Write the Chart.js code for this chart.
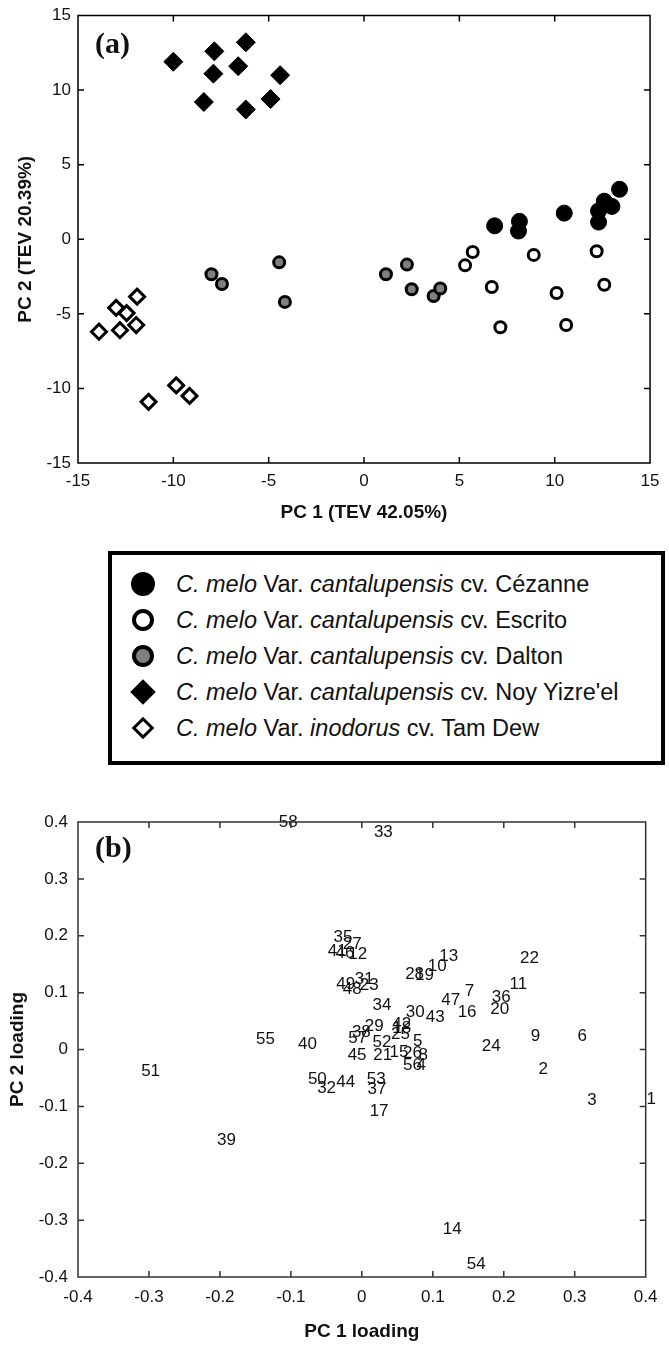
<!DOCTYPE html>
<html>
<head>
<meta charset="utf-8">
<script src="https://cdn.jsdelivr.net/npm/chart.js@4.4.0/dist/chart.umd.min.js"></script>
<style>
  html, body { margin: 0; padding: 0; background: #fff; }
  body { width: 669px; height: 1346px; position: relative; overflow: hidden;
         font-family: Arial, 'Liberation Sans', sans-serif; }
  .wrap { position: absolute; left: 0; width: 669px; }
  #wrapA { top: 0; height: 540px; }
  #wrapB { top: 790px; height: 556px; }
  .legend { position: absolute; left: 108px; top: 551px; width: 549px; height: 206px;
            border: 4px solid #000; }
  .row { position: absolute; left: 0; height: 36px; line-height: 36px; font-size: 23.5px;
         color: #111; white-space: nowrap; }
  .row .txt { position: absolute; left: 64px; top: 0; }
  .mk { position: absolute; box-sizing: border-box; }
</style>
</head>
<body>
<div class="wrap" id="wrapA"><canvas id="chartA"></canvas></div>
<div class="legend" id="legend"></div>
<div class="wrap" id="wrapB"><canvas id="chartB"></canvas></div>
<script>
// (a) scores, PC1 / PC2
const cezannePC1 = [6.85, 8.15, 8.1, 10.5, 12.6, 13.0, 12.3, 12.3, 13.4]
const cezannePC2 = [0.9, 1.2, 0.55, 1.75, 2.55, 2.2, 1.9, 1.15, 3.35]
const escritoPC1 = [5.7, 5.3, 8.9, 12.2, 6.7, 10.1, 12.6, 7.15, 10.6]
const escritoPC2 = [-0.85, -1.75, -1.05, -0.8, -3.2, -3.6, -3.05, -5.9, -5.75]
const daltonPC1 = [-8.0, -7.45, -4.45, -4.15, 1.15, 2.25, 2.5, 3.65, 4.0]
const daltonPC2 = [-2.35, -3.0, -1.55, -4.2, -2.35, -1.7, -3.35, -3.8, -3.3]
const noyPC1 = [-10.0, -7.85, -6.2, -7.9, -6.6, -4.4, -8.4, -6.2, -4.9]
const noyPC2 = [11.9, 12.6, 13.2, 11.1, 11.6, 11.0, 9.2, 8.7, 9.4]
const tamDewPC1 = [-13.9, -13.0, -12.8, -12.45, -11.9, -11.95, -11.3, -9.85, -9.15]
const tamDewPC2 = [-6.2, -4.6, -6.1, -4.95, -3.85, -5.75, -10.9, -9.8, -10.5]

const varieties = ['cantalupensis', 'cantalupensis', 'cantalupensis', 'cantalupensis', 'inodorus']
const cultivars = ['Cézanne', 'Escrito', 'Dalton', "Noy Yizre'el", 'Tam Dew']

const scoreTicksA = [-15, -10, -5, 0, 5, 10, 15]

// (b) loadings
const loadingIds = []
for (let i = 1; i <= 58; i++) loadingIds.push(String(i))
const loadingPC1 = [
  0.401, 0.249, 0.3175, 0.077, 0.072, 0.304, 0.145, 0.080, 0.238, 0.093,
  0.208, -0.019, 0.109, 0.114, 0.039, 0.135, 0.011, 0.043, 0.075, 0.181,
  0.016, 0.223, -0.003, 0.169, 0.041, 0.058, -0.027, 0.061, 0.004, 0.062,
  -0.010, -0.063, 0.017, 0.015, -0.040, 0.183, 0.008, -0.014, -0.204, -0.090,
  -0.048, 0.043, 0.090, -0.036, -0.020, -0.037, 0.112, -0.027, -0.036, -0.076,
  -0.311, 0.015, 0.007, 0.148, -0.149, 0.058, -0.019, -0.117
]
const loadingPC2 = [
  -0.088, -0.035, -0.089, -0.027, 0.014, 0.024, 0.102, -0.010, 0.024, 0.146,
  0.115, 0.168, 0.164, -0.316, -0.005, 0.065, -0.108, 0.037, 0.131, 0.071,
  -0.011, 0.160, 0.112, 0.005, 0.027, -0.007, 0.185, 0.132, 0.040, 0.066,
  0.124, -0.068, 0.382, 0.077, 0.197, 0.092, -0.070, 0.031, -0.159, 0.010,
  0.172, 0.045, 0.056, -0.058, -0.011, 0.169, 0.086, 0.105, 0.115, -0.052,
  -0.039, 0.012, -0.052, -0.378, 0.018, -0.027, 0.020, 0.400
]

const FONT = "Arial, 'Liberation Sans', sans-serif"
const SERIF = "'Times New Roman', 'Liberation Serif', serif"

const zip = (xs, ys) => xs.map((x, i) => ({x, y: ys[i]}))

// box + inward ticks on all four sides, like the original figure
const frameTicks = {
  id: 'frameTicks',
  afterDraw(chart, args, opts) {
    const {ctx, chartArea: a, scales: {x, y}} = chart
    ctx.save()
    ctx.strokeStyle = opts.color
    ctx.lineWidth = opts.width
    ctx.strokeRect(a.left, a.top, a.right - a.left, a.bottom - a.top)
    ctx.beginPath()
    x.ticks.forEach(t => {
      const px = x.getPixelForValue(t.value)
      if (px - a.left < 1 || a.right - px < 1) return
      ctx.moveTo(px, a.bottom); ctx.lineTo(px, a.bottom - opts.len)
      ctx.moveTo(px, a.top); ctx.lineTo(px, a.top + opts.len)
    })
    y.ticks.forEach(t => {
      const py = y.getPixelForValue(t.value)
      if (py - a.top < 1 || a.bottom - py < 1) return
      ctx.moveTo(a.left, py); ctx.lineTo(a.left + opts.len, py)
      ctx.moveTo(a.right, py); ctx.lineTo(a.right - opts.len, py)
    })
    ctx.stroke()
    // panel letter
    ctx.fillStyle = '#111'
    ctx.font = 'bold 30px ' + SERIF
    ctx.textAlign = 'left'
    ctx.textBaseline = 'middle'
    ctx.fillText(opts.letter, a.left + opts.letterDx, a.top + opts.letterDy)
    ctx.restore()
  }
}

// number labels at each loading point (left aligned, vertically centred)
const pointText = {
  id: 'pointText',
  afterDatasetsDraw(chart, args, opts) {
    if (!opts.labels) return
    const {ctx} = chart
    const meta = chart.getDatasetMeta(0)
    ctx.save()
    ctx.fillStyle = '#111'
    ctx.font = '17px ' + FONT
    ctx.textAlign = 'left'
    ctx.textBaseline = 'middle'
    meta.data.forEach((el, i) => ctx.fillText(opts.labels[i], el.x, el.y))
    ctx.restore()
  }
}

Chart.register(frameTicks, pointText)

function axes(opts) {
  const tickFont = {family: FONT, size: 17, lineHeight: 1}
  const titleFont = {family: FONT, size: 19, weight: 'bold', lineHeight: 1.2}
  return {
    x: {
      type: 'linear', min: opts.min, max: opts.max,
      grid: {display: false, drawTicks: false}, border: {display: false},
      ticks: {stepSize: opts.step, padding: opts.xPad, color: '#111', font: tickFont,
              callback: opts.fmt},
      title: {display: true, text: opts.xTitle, color: '#111', font: titleFont,
              padding: {top: 0, bottom: opts.xTitlePad}},
      afterFit: s => { s.height = opts.xHeight }
    },
    y: {
      type: 'linear', min: opts.yMin, max: opts.yMax,
      grid: {display: false, drawTicks: false}, border: {display: false},
      ticks: {stepSize: opts.yStep, padding: opts.yPad, color: '#111', font: tickFont,
              callback: opts.fmt},
      title: {display: true, text: opts.yTitle, color: '#111', font: titleFont,
              padding: {top: opts.yTitlePad, bottom: 0}},
      afterFit: s => { s.width = 78 }
    }
  }
}

new Chart(document.getElementById('chartA'), {
  type: 'scatter',
  data: {
    datasets: [
      {label: cultivars[0], data: zip(cezannePC1, cezannePC2), pointStyle: 'circle',
       pointRadius: 8, backgroundColor: '#000', borderColor: '#000', borderWidth: 1},
      {label: cultivars[1], data: zip(escritoPC1, escritoPC2), pointStyle: 'circle',
       pointRadius: 5.5, backgroundColor: '#fff', borderColor: '#000', borderWidth: 3},
      {label: cultivars[2], data: zip(daltonPC1, daltonPC2), pointStyle: 'circle',
       pointRadius: 5.5, backgroundColor: '#7f7f7f', borderColor: '#000', borderWidth: 3},
      {label: cultivars[3], data: zip(noyPC1, noyPC2), pointStyle: 'rectRot',
       pointRadius: 9.5, backgroundColor: '#000', borderColor: '#000', borderWidth: 1},
      {label: cultivars[4], data: zip(tamDewPC1, tamDewPC2), pointStyle: 'rectRot',
       pointRadius: 7.5, backgroundColor: '#fff', borderColor: '#000', borderWidth: 3}
    ]
  },
  options: {
    responsive: true, maintainAspectRatio: false, animation: false, events: [],
    clip: false,
    layout: {padding: {left: 0, right: 13, top: 8, bottom: 0}},
    scales: axes({
      min: scoreTicksA[0], max: scoreTicksA[scoreTicksA.length - 1], step: 5,
      yMin: scoreTicksA[0], yMax: scoreTicksA[scoreTicksA.length - 1], yStep: 5,
      xPad: 9.5, yPad: 7, xHeight: 77, xTitlePad: 15.6, yTitlePad: 14.6,
      xTitle: 'PC 1 (TEV 42.05%)', yTitle: 'PC 2 (TEV 20.39%)',
      fmt: v => String(v)
    }),
    plugins: {
      legend: {display: false}, tooltip: {enabled: false},
      frameTicks: {color: '#000', width: 1.5, len: 6, letter: '(a)', letterDx: 17, letterDy: 30}
    }
  }
})

new Chart(document.getElementById('chartB'), {
  type: 'scatter',
  data: {
    datasets: [
      {label: 'loadings', data: zip(loadingPC1, loadingPC2), pointRadius: 0}
    ]
  },
  options: {
    responsive: true, maintainAspectRatio: false, animation: false, events: [],
    clip: false,
    layout: {padding: {left: 0, right: 12, top: 32, bottom: 0}},
    scales: axes({
      min: -0.4, max: 0.4, step: 0.1, yMin: -0.4, yMax: 0.4, yStep: 0.1,
      xPad: 11.5, yPad: 10, xHeight: 69, xTitlePad: 2.6, yTitlePad: 6.6,
      xTitle: 'PC 1 loading', yTitle: 'PC 2 loading',
      fmt: v => String(Math.round(v * 10) / 10)
    }),
    plugins: {
      legend: {display: false}, tooltip: {enabled: false},
      frameTicks: {color: '#333', width: 1.5, len: 6, letter: '(b)', letterDx: 17, letterDy: 27},
      pointText: {labels: loadingIds}
    }
  }
})

// legend box, built from the same series
const markers = [
  {shape: 'circle', size: 24, fill: '#000', border: 0},
  {shape: 'circle', size: 22, fill: '#fff', border: 4},
  {shape: 'circle', size: 22, fill: '#7f7f7f', border: 4},
  {shape: 'diamond', size: 18, fill: '#000', border: 0},
  {shape: 'diamond', size: 16, fill: '#fff', border: 3.5}
]
const legend = document.getElementById('legend')
cultivars.forEach((cv, i) => {
  const row = document.createElement('div')
  row.className = 'row'
  row.style.top = (11 + i * 36) + 'px'
  const m = markers[i]
  const mk = document.createElement('div')
  mk.className = 'mk'
  mk.style.width = m.size + 'px'
  mk.style.height = m.size + 'px'
  mk.style.left = (31 - m.size / 2) + 'px'
  mk.style.top = (18 - m.size / 2) + 'px'
  mk.style.background = m.fill
  mk.style.border = m.border ? m.border + 'px solid #000' : 'none'
  if (m.shape === 'circle') mk.style.borderRadius = '50%'
  else mk.style.transform = 'rotate(45deg)'
  row.appendChild(mk)
  const txt = document.createElement('span')
  txt.className = 'txt'
  txt.innerHTML = '<i>C. melo</i> Var. <i>' + varieties[i] + '</i> cv. ' + cv
  row.appendChild(txt)
  legend.appendChild(row)
})
</script>
</body>
</html>
